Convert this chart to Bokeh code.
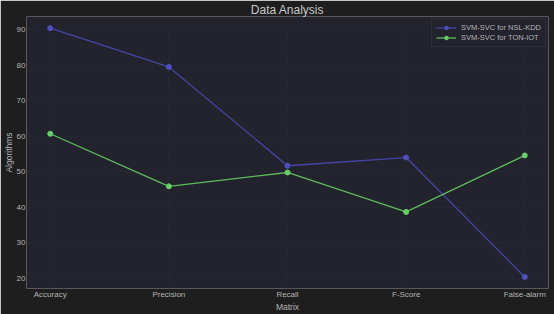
from bokeh.plotting import figure
from bokeh.models import Range1d, FixedTicker, Legend, LegendItem
from bokeh.embed import file_html
from bokeh.resources import INLINE

categories = ["Accuracy", "Precision", "Recall", "F-Score", "False-alarm"]
nsl_kdd = [90.4, 79.5, 51.7, 54.0, 20.4]
ton_iot = [60.7, 45.9, 49.8, 38.7, 54.6]
y_ticks = [20, 30, 40, 50, 60, 70, 80, 90]

FONT = "Liberation Sans"
BG = "#1e1e1e"
PLOT_BG = "#23232d"
TXT = "#b4b4b4"
BLUE = "#4545a8"
BLUE_M = "#4f4fbf"
GREEN = "#5bbd5b"
GREEN_M = "#66d066"

xs = list(range(len(categories)))

p = figure(width=554, height=314, output_backend="svg", toolbar_location=None,
           x_range=Range1d(-0.2, 4.2), y_range=Range1d(17.15, 93.7),
           min_border_left=0, min_border_right=6, min_border_top=0, min_border_bottom=0)
p.background_fill_color = PLOT_BG
p.border_fill_color = BG
p.outline_line_color = None
p.outline_line_alpha = 0
p.outline_line_width = 0

p.title.text = "Data Analysis"
p.title.align = "center"
p.title.text_color = "#c8c8c8"
p.title.text_font = FONT
p.title.text_font_size = "12px"
p.title.text_font_style = "normal"
p.title.standoff = 0
p.title.offset = 0
p.title.text_line_height = 0.9

for ax in (p.xaxis[0], p.yaxis[0]):
    ax.axis_line_color = None
    ax.major_tick_line_color = None
    ax.minor_tick_line_color = None
    ax.major_tick_out = 0
    ax.major_tick_in = 0
    ax.minor_tick_out = 0
    ax.minor_tick_in = 0
    ax.major_label_text_color = TXT
    ax.major_label_text_font = FONT
    ax.major_label_text_font_size = "8px"
    ax.major_label_text_line_height = 1.0
    ax.axis_label_text_color = TXT
    ax.axis_label_text_font = FONT
    ax.axis_label_text_font_size = "8.5px"
    ax.axis_label_text_font_style = "normal"
    ax.axis_label_text_line_height = 1.0

p.xaxis.ticker = FixedTicker(ticks=xs)
p.xaxis.major_label_overrides = {i: c for i, c in enumerate(categories)}
p.xaxis.axis_label = "Matrix"
p.xaxis.major_label_standoff = 1
p.xaxis.axis_label_standoff = 0

p.yaxis.ticker = FixedTicker(ticks=y_ticks)
p.yaxis.axis_label = "Algorithms"
p.yaxis.major_label_standoff = 1
p.yaxis.axis_label_standoff = 0

p.xgrid.ticker = FixedTicker(ticks=xs)
p.grid.grid_line_color = "#2e2e3a"
p.grid.grid_line_width = 1
p.grid.grid_line_dash = "1 2"

l1 = p.line(xs, nsl_kdd, line_color=BLUE, line_width=1.3)
c1 = p.scatter(xs, nsl_kdd, size=5, fill_color=BLUE_M, line_color=BLUE_M)
l2 = p.line(xs, ton_iot, line_color=GREEN, line_width=1.3)
c2 = p.scatter(xs, ton_iot, size=5, fill_color=GREEN_M, line_color=GREEN_M)

legend = Legend(items=[
    LegendItem(label="SVM-SVC for NSL-KDD", renderers=[l1, c1]),
    LegendItem(label="SVM-SVC for TON-IOT", renderers=[l2, c2]),
], location="top_right")
legend.background_fill_color = PLOT_BG
legend.background_fill_alpha = 1
legend.border_line_color = "#3a3a44"
legend.label_text_color = TXT
legend.label_text_font = FONT
legend.label_text_font_size = "7.5px"
legend.label_height = 9
legend.glyph_height = 9
legend.glyph_width = 20
legend.spacing = 1
legend.padding = 4
legend.margin = 2
p.add_layout(legend)

open("out.html", "w").write(file_html(p, INLINE))
